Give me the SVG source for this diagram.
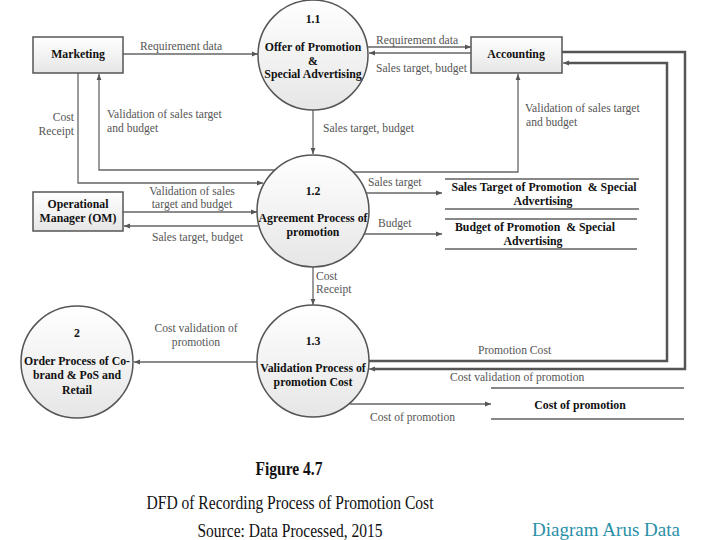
<svg xmlns="http://www.w3.org/2000/svg" width="720" height="540" viewBox="0 0 720 540">
<defs>
<linearGradient id="gfill" x1="0" y1="0" x2="0" y2="1">
<stop offset="0" stop-color="#ffffff"/>
<stop offset="1" stop-color="#e6e6e6"/>
</linearGradient>
<marker id="arr" viewBox="0 0 10 10" refX="10" refY="5" markerWidth="6" markerHeight="6" markerUnits="userSpaceOnUse" orient="auto">
<path d="M0,1 L10,5 L0,9 z" fill="#555"/>
</marker>
</defs>
<style>
.node{fill:url(#gfill);stroke:#555;stroke-width:1.5}
.nt{font-family:"Liberation Serif","Times New Roman",serif;font-size:11.8px;font-weight:bold;fill:#111;text-anchor:middle}
.lb{font-family:"Liberation Serif","Times New Roman",serif;font-size:11.6px;fill:#555}
.c{fill:none;stroke:#666;stroke-width:1.3}
.thick{fill:none;stroke:#555;stroke-width:2.5}
.store{stroke:#888;stroke-width:2}
.cap{font-family:"Liberation Serif","Times New Roman",serif;font-size:19px;fill:#111;text-anchor:middle}
.teal{font-family:"Liberation Serif","Times New Roman",serif;font-size:18px;fill:#2a90a8;text-anchor:middle}
</style>
<rect width="720" height="540" fill="#ffffff"/>

<g id="connectors">
<path class="c" d="M123,54 L258,54" marker-end="url(#arr)"/>
<path class="c" d="M368,47 L471,47" marker-end="url(#arr)"/>
<path class="c" d="M471,53 L369,53" marker-end="url(#arr)"/>
<path class="c" d="M313,110 L313,154" marker-end="url(#arr)"/>
<path class="c" d="M78,73 L78,183 L263,183" marker-end="url(#arr)"/>
<path class="c" d="M275,170 L99,170 L99,74" marker-end="url(#arr)"/>
<path class="c" d="M353,172 L518,172 L518,74" marker-end="url(#arr)"/>
<path class="c" d="M123,212 L257,212" marker-end="url(#arr)"/>
<path class="c" d="M258,226 L124,226" marker-end="url(#arr)"/>
<path class="c" d="M366,193 L442,193" marker-end="url(#arr)"/>
<path class="c" d="M363,234 L442,234" marker-end="url(#arr)"/>
<path class="c" d="M313,266 L313,305" marker-end="url(#arr)"/>
<path class="c" d="M258,362 L134,362" marker-end="url(#arr)"/>
<path class="c" d="M350,404 L491,404" marker-end="url(#arr)"/>
<path class="thick" d="M368,361 L667,361 L667,63 L568,63"/>
<path class="c" d="M568,63 L563,63" marker-end="url(#arr)"/>
<path class="thick" d="M562,52 L685,52 L685,369 L373,369"/>
<path class="c" d="M373,369 L369,369" marker-end="url(#arr)"/>
<text class="lb" x="140" y="50">Requirement data</text>
<text class="lb" x="376" y="44">Requirement data</text>
<text class="lb" x="376" y="72">Sales target, budget</text>
<text class="lb" x="74" y="121" text-anchor="end">Cost</text>
<text class="lb" x="74" y="135" text-anchor="end">Receipt</text>
<text class="lb" x="107" y="118">Validation of sales target</text>
<text class="lb" x="107" y="132">and budget</text>
<text class="lb" x="323" y="132">Sales target, budget</text>
<text class="lb" x="525" y="112">Validation of sales target</text>
<text class="lb" x="526" y="126">and budget</text>
<text class="lb" x="192" y="195" text-anchor="middle">Validation of sales</text>
<text class="lb" x="192" y="208" text-anchor="middle">target and budget</text>
<text class="lb" x="152" y="241">Sales target, budget</text>
<text class="lb" x="368" y="186">Sales target</text>
<text class="lb" x="378" y="227">Budget</text>
<text class="lb" x="316" y="280">Cost</text>
<text class="lb" x="316" y="293">Receipt</text>
<text class="lb" x="196" y="332" text-anchor="middle">Cost validation of</text>
<text class="lb" x="196" y="346" text-anchor="middle">promotion</text>
<text class="lb" x="478" y="354">Promotion Cost</text>
<text class="lb" x="450" y="381">Cost validation of promotion</text>
<text class="lb" x="370" y="421">Cost of promotion</text>
</g>

<g id="marketing">
<rect class="node" x="33" y="37" width="90" height="36"/>
<text class="nt" x="78" y="58">Marketing</text>
</g>
<g id="accounting">
<rect class="node" x="471" y="37" width="91" height="36"/>
<text class="nt" x="516" y="58">Accounting</text>
</g>
<g id="om">
<rect class="node" x="33" y="192" width="90" height="39"/>
<text class="nt" x="78" y="208">Operational</text>
<text class="nt" x="78" y="222">Manager (OM)</text>
</g>
<g id="p1_1">
<circle class="node" cx="313" cy="55" r="55"/>
<text class="nt" x="313" y="23">1.1</text>
<text class="nt" x="313" y="51">Offer of Promotion</text>
<text class="nt" x="313" y="65">&amp;</text>
<text class="nt" x="313" y="78">Special Advertising</text>
</g>
<g id="p1_2">
<circle class="node" cx="313" cy="211" r="56"/>
<text class="nt" x="313" y="195">1.2</text>
<text class="nt" x="313" y="222">Agreement Process of</text>
<text class="nt" x="313" y="236">promotion</text>
</g>
<g id="p1_3">
<circle class="node" cx="313" cy="361" r="56"/>
<text class="nt" x="313" y="345">1.3</text>
<text class="nt" x="313" y="372">Validation Process of</text>
<text class="nt" x="313" y="386">promotion Cost</text>
</g>
<g id="p2">
<circle class="node" cx="77" cy="362" r="56"/>
<text class="nt" x="77" y="337">2</text>
<text class="nt" x="77" y="365">Order Process of Co-</text>
<text class="nt" x="77" y="379">brand &amp; PoS and</text>
<text class="nt" x="77" y="394">Retail</text>
</g>
<g id="store_sales_target">
<line class="store" x1="445" y1="179" x2="639" y2="179"/>
<line class="store" x1="445" y1="209" x2="639" y2="209"/>
<text class="nt" x="544" y="191" xml:space="preserve">Sales Target of Promotion  &amp; Special</text>
<text class="nt" x="543" y="205">Advertising</text>
</g>
<g id="store_budget">
<line class="store" x1="445" y1="219" x2="637" y2="219"/>
<line class="store" x1="445" y1="249" x2="637" y2="249"/>
<text class="nt" x="535" y="231" xml:space="preserve">Budget of Promotion  &amp; Special</text>
<text class="nt" x="533" y="245">Advertising</text>
</g>
<g id="store_cost">
<line class="store" x1="491" y1="388" x2="684" y2="388"/>
<line class="store" x1="491" y1="419" x2="684" y2="419"/>
<text class="nt" x="580" y="409">Cost of promotion</text>
</g>

<g id="caption">
<text class="cap" x="289" y="475" font-weight="bold" textLength="67" lengthAdjust="spacingAndGlyphs">Figure 4.7</text>
<text class="cap" x="290" y="509" textLength="287" lengthAdjust="spacingAndGlyphs">DFD of Recording Process of Promotion Cost</text>
<text class="cap" x="290" y="537" textLength="185" lengthAdjust="spacingAndGlyphs">Source: Data Processed, 2015</text>
<text class="teal" x="606" y="536" textLength="148" lengthAdjust="spacingAndGlyphs">Diagram Arus Data</text>
</g>
</svg>
